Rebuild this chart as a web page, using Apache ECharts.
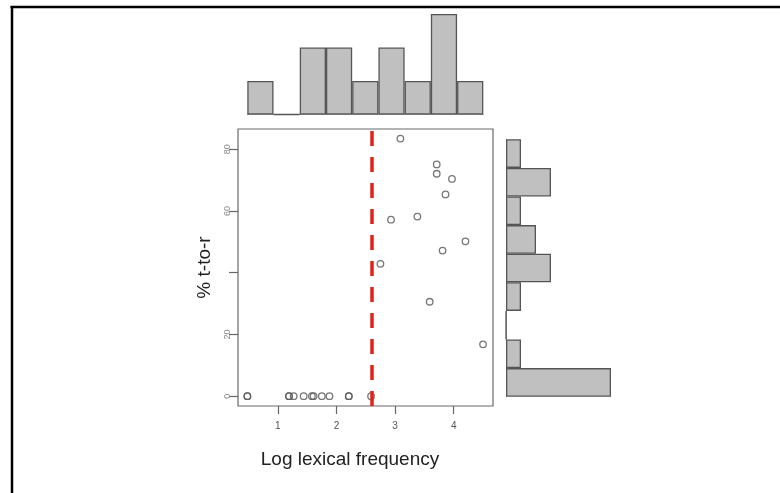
<!DOCTYPE html>
<html>
<head>
<meta charset="utf-8">
<script src="https://cdn.jsdelivr.net/npm/echarts@6/dist/echarts.min.js"></script>
<style>html,body{margin:0;padding:0;background:#fff}#c{width:780px;height:493px}</style>
</head>
<body>
<div id="c"></div>
<script>
// Scatter data: log lexical frequency (x) vs % t-to-r (y)
var xVals = [0.48, 0.48, 1.19, 1.19, 1.27, 1.44, 1.58, 1.61, 1.75, 1.88, 2.21, 2.21, 2.59,
             3.09, 3.71, 3.71, 3.97, 3.86, 2.93, 3.38, 4.20, 3.81, 2.75, 3.59, 4.50];
var yVals = [0, 0, 0, 0, 0, 0, 0, 0, 0, 0, 0, 0, 0,
             83.5, 75.1, 72.1, 70.4, 65.4, 57.2, 58.2, 50.2, 47.2, 42.9, 30.6, 16.8];
var cutoff = 2.6;
// Marginal histogram counts
var topCounts = [1, 0, 2, 2, 1, 2, 1, 3, 1];          // left to right
var rightCounts = [7, 1, 0, 1, 3, 2, 1, 3, 1];        // bottom to top
var xTicks = [1, 2, 3, 4];
var yTicks = [0, 20, 40, 60, 80];
var yTickLabels = [0, 20, 60, 80];
var xTitle = 'Log lexical frequency';
var yTitle = '% t-to-r';

var pts = xVals.map(function (x, i) { return [x, yVals[i]]; });
var binIdx = topCounts.map(function (_, i) { return String(i); });

var barStyle = { color: '#c0c0c0', borderColor: '#555', borderWidth: 1.3 };

var chart = echarts.init(document.getElementById('c'), null, { renderer: 'canvas' });
chart.setOption({
  animation: false,
  backgroundColor: '#ffffff',
  grid: [
    { left: 238, top: 129, width: 255, height: 277, show: true, borderColor: '#6a6a6a', borderWidth: 1.2, backgroundColor: 'transparent' },
    { left: 247.3, top: 14, width: 236, height: 100.5 },
    { left: 506, top: 139.3, width: 105, height: 257.4 }
  ],
  xAxis: [
    { gridIndex: 0, type: 'value', min: 0.32, max: 4.67,
      splitLine: { show: false }, axisLine: { show: false, onZero: false },
      axisTick: { show: true, length: 8, customValues: xTicks, lineStyle: { color: '#666', width: 1.2 } },
      axisLabel: { customValues: xTicks, margin: 15, color: '#555', fontSize: 10, fontFamily: 'Liberation Sans, Arial, sans-serif' } },
    { gridIndex: 1, type: 'category', data: binIdx, boundaryGap: true,
      axisLine: { show: true, onZero: false, lineStyle: { color: '#999', width: 1 } }, axisTick: { show: false }, axisLabel: { show: false } },
    { gridIndex: 2, type: 'value', min: 0, max: 7, show: false }
  ],
  yAxis: [
    { gridIndex: 0, type: 'value', min: -3.2, max: 86.6,
      splitLine: { show: false }, axisLine: { show: false, onZero: false },
      axisTick: { show: true, length: 9, customValues: yTicks, lineStyle: { color: '#666', width: 1.2 } },
      axisLabel: { customValues: yTickLabels, rotate: 90, margin: 6, color: '#8a8a8a', fontSize: 9, fontFamily: 'Liberation Sans, Arial, sans-serif' },
      name: yTitle, nameLocation: 'middle', nameGap: 24, nameRotate: 90,
      nameTextStyle: { fontSize: 19, color: '#222', fontFamily: 'Liberation Sans, Arial, sans-serif' } },
    { gridIndex: 1, type: 'value', min: 0, max: 3, show: false },
    { gridIndex: 2, type: 'category', data: binIdx, boundaryGap: true,
      axisLine: { show: true, onZero: false, lineStyle: { color: '#999', width: 1 } }, axisTick: { show: false }, axisLabel: { show: false } }
  ],
  series: [
    { type: 'scatter', xAxisIndex: 0, yAxisIndex: 0, data: pts, symbol: 'circle', symbolSize: 6.5,
      itemStyle: { color: 'rgba(255,255,255,0)', borderColor: '#555', borderWidth: 1.3 },
      markLine: { silent: true, symbol: 'none', label: { show: false },
        lineStyle: { color: '#e2231a', width: 3.5, type: [15, 11] },
        data: [{ xAxis: cutoff }] } },
    { type: 'bar', xAxisIndex: 1, yAxisIndex: 1, data: topCounts, barCategoryGap: '0%', itemStyle: barStyle },
    { type: 'bar', xAxisIndex: 2, yAxisIndex: 2, data: rightCounts, barCategoryGap: '0%', itemStyle: barStyle }
  ],
  graphic: [
    { type: 'line', shape: { x1: 10.5, y1: 7, x2: 780, y2: 7 }, style: { stroke: '#000', lineWidth: 2.5 } },
    { type: 'line', shape: { x1: 12, y1: 6, x2: 12, y2: 493 }, style: { stroke: '#000', lineWidth: 2.5 } },
    { type: 'text', x: 350, y: 460, style: { text: xTitle, fontSize: 19, fill: '#222', align: 'center', verticalAlign: 'middle', fontFamily: 'Liberation Sans, Arial, sans-serif' } }
  ]
});
</script>
</body>
</html>
